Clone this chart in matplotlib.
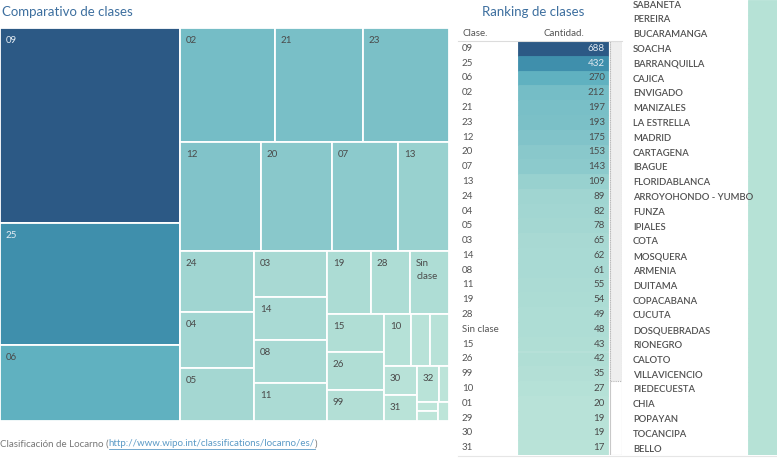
import numpy as np
import matplotlib
matplotlib.use('Agg')
import matplotlib.pyplot as plt
from matplotlib.colors import LinearSegmentedColormap, Normalize
from matplotlib.patches import Rectangle

# ---------------- data ----------------
classes = ['09', '25', '06', '02', '21', '23', '12', '20', '07', '13', '24', '04', '05',
           '03', '14', '08', '11', '19', '28', 'Sin clase', '15', '26', '99', '10', '01',
           '29', '30', '31', '32', '22', '18', '16', '17']
counts = [688, 432, 270, 212, 197, 193, 175, 153, 143, 109, 89, 82, 78,
          65, 62, 61, 55, 54, 49, 48, 43, 42, 35, 27, 20,
          19, 19, 17, 16, 7, 4, 4, 4]
# strips of the treemap (number of cells in each successive strip)
strip_sizes = [3, 3, 4, 3, 4, 3, 3, 3, 2, 2, 2, 1]

n_ranking = 28  # rows visible in the ranking table

cities = ['SABANETA', 'PEREIRA', 'BUCARAMANGA', 'SOACHA', 'BARRANQUILLA', 'CAJICA',
          'ENVIGADO', 'MANIZALES', 'LA ESTRELLA', 'MADRID', 'CARTAGENA', 'IBAGUE',
          'FLORIDABLANCA', 'ARROYOHONDO - YUMBO', 'FUNZA', 'IPIALES', 'COTA', 'MOSQUERA',
          'ARMENIA', 'DUITAMA', 'COPACABANA', 'CUCUTA', 'DOSQUEBRADAS', 'RIONEGRO',
          'CALOTO', 'VILLAVICENCIO', 'PIEDECUESTA', 'CHIA', 'POPAYAN', 'TOCANCIPA', 'BELLO']

# ---------------- setup ----------------
W, H = 777, 476
plt.rcParams['font.family'] = ['Lato', 'DejaVu Sans']
fig = plt.figure(figsize=(W / 100, H / 100), dpi=100)
fig.patch.set_facecolor('white')

cmap = LinearSegmentedColormap.from_list('blueteal', ['#bde5d9', '#45a2b9', '#2c5985'])
norm = Normalize(vmin=min(counts), vmax=max(counts))

TITLE_C = '#3d6f9f'
TEXT_C = '#555555'


def px_axes(x0, y0, x1, y1):
    ax = fig.add_axes([x0 / W, 1 - y1 / H, (x1 - x0) / W, (y1 - y0) / H])
    ax.set_axis_off()
    return ax


def fy(py):
    return 1 - py / H


# ---------------- treemap ----------------
tx0, ty0, tx1, ty1 = 0, 28, 449, 421
axt = px_axes(tx0, ty0, tx1, ty1)
tw, th = tx1 - tx0, ty1 - ty0
axt.set_xlim(0, tw)
axt.set_ylim(th, 0)


def layout(values, groups, x, y, w, h):
    scale = w * h / sum(values)
    rects = []
    i = 0
    for g in groups:
        vals = values[i:i + g]
        s = sum(vals) * scale
        if w >= h:
            cw = s / h
            yy = y
            for v in vals:
                ch = v * scale / cw
                rects.append((x, yy, cw, ch))
                yy += ch
            x += cw
            w -= cw
        else:
            rh = s / w
            xx = x
            for v in vals:
                cw = v * scale / rh
                rects.append((xx, y, cw, rh))
                xx += cw
            y += rh
            h -= rh
        i += g
    return rects


rects = layout(counts, strip_sizes, 0, 0, tw, th)
for (x, y, w, h), c, v in zip(rects, classes, counts):
    axt.add_patch(Rectangle((x, y), w, h, facecolor=cmap(norm(v)),
                            edgecolor='white', linewidth=1.3))
    if w > 21 and h > 18:
        lab = 'Sin\nclase' if c == 'Sin clase' else c
        col = '#e4ecf3' if v > 400 else '#4a4a4a'
        axt.text(x + 6, y + 8, lab, ha='left', va='top', fontsize=7, color=col,
                 linespacing=1.5)

fig.text(2 / W, fy(12), 'Comparativo de clases', fontsize=9.5, color=TITLE_C,
         ha='left', va='center')

# ---------------- ranking table ----------------
rx0, ry0, rx1, ry1 = 458, 41, 622, 455
axr = px_axes(rx0, ry0, rx1, ry1)
axr.set_xlim(rx0, rx1)
axr.set_ylim(n_ranking, 0)
rank_cls = classes[:n_ranking]
rank_val = counts[:n_ranking]
ypos = np.arange(n_ranking) + 0.5
bar_cols = [cmap(norm(v)) for v in rank_val]
axr.barh(ypos, width=90, left=518, height=1.0,
         color=bar_cols, edgecolor=bar_cols, linewidth=0.6)
for yv, c, v in zip(ypos, rank_cls, rank_val):
    axr.text(462, yv, c, ha='left', va='center', fontsize=7, color=TEXT_C)
    axr.text(605, yv, str(v), ha='right', va='center', fontsize=7,
             color='#dfe8f0' if v > 400 else '#4a4a4a')
# scrollbar
thumb_end = (381 - ry0) / (ry1 - ry0) * n_ranking
axr.add_patch(Rectangle((609.5, 0), 12, n_ranking, facecolor='white',
                        edgecolor='#c8c8c8', linewidth=0.8))
axr.add_patch(Rectangle((609.5, 0), 12, thumb_end, facecolor='#eeeeee',
                        edgecolor='#b8b8b8', linewidth=0.8, linestyle=(0, (1, 1))))

fig.text(533 / W, fy(12), 'Ranking de clases', fontsize=9.5, color=TITLE_C,
         ha='center', va='center')
fig.text(463 / W, fy(34), 'Clase.', fontsize=7, color=TEXT_C, ha='left', va='center')
fig.text(544 / W, fy(34), 'Cantidad.', fontsize=7, color=TEXT_C, ha='left', va='center')
fig.add_artist(plt.Line2D([458 / W, 622 / W], [fy(40.5), fy(40.5)], color='#dcdcdc', lw=0.8))
fig.add_artist(plt.Line2D([458 / W, 777 / W], [fy(455.5), fy(455.5)], color='#e6e6e6', lw=0.8))

# ---------------- city list ----------------
axc = px_axes(748, 0, 777, 455)
axc.set_ylim(len(cities), 0)
axc.set_xlim(0, 1)
axc.barh(np.arange(len(cities)) + 0.5, width=1.0, height=1.0, color='#b6e2d6',
         edgecolor='#b6e2d6', linewidth=0.6)
for i, c in enumerate(cities):
    fig.text(633 / W, fy(5 + i * 14.8), c, fontsize=6.8, color='#505050',
             ha='left', va='center', fontweight='semibold')

# ---------------- footer ----------------
t1 = fig.text(0, fy(444), 'Clasificación de Locarno (', fontsize=7, color='#777777',
              ha='left', va='center')
fig.canvas.draw()
r = fig.canvas.get_renderer()
bb = t1.get_window_extent(renderer=r)
link = 'http://www.wipo.int/classifications/locarno/es/'
t2 = fig.text(bb.x1 / W, fy(444), link, fontsize=7, color='#5b9ac6',
              ha='left', va='center')
bb2 = t2.get_window_extent(renderer=r)
fig.add_artist(plt.Line2D([bb2.x0 / W, bb2.x1 / W], [fy(449), fy(449)],
                          color='#5b9ac6', lw=0.6))
fig.text(bb2.x1 / W, fy(444), ')', fontsize=7, color='#777777', ha='left', va='center')

fig.savefig('out.png', dpi=100, facecolor='white')
